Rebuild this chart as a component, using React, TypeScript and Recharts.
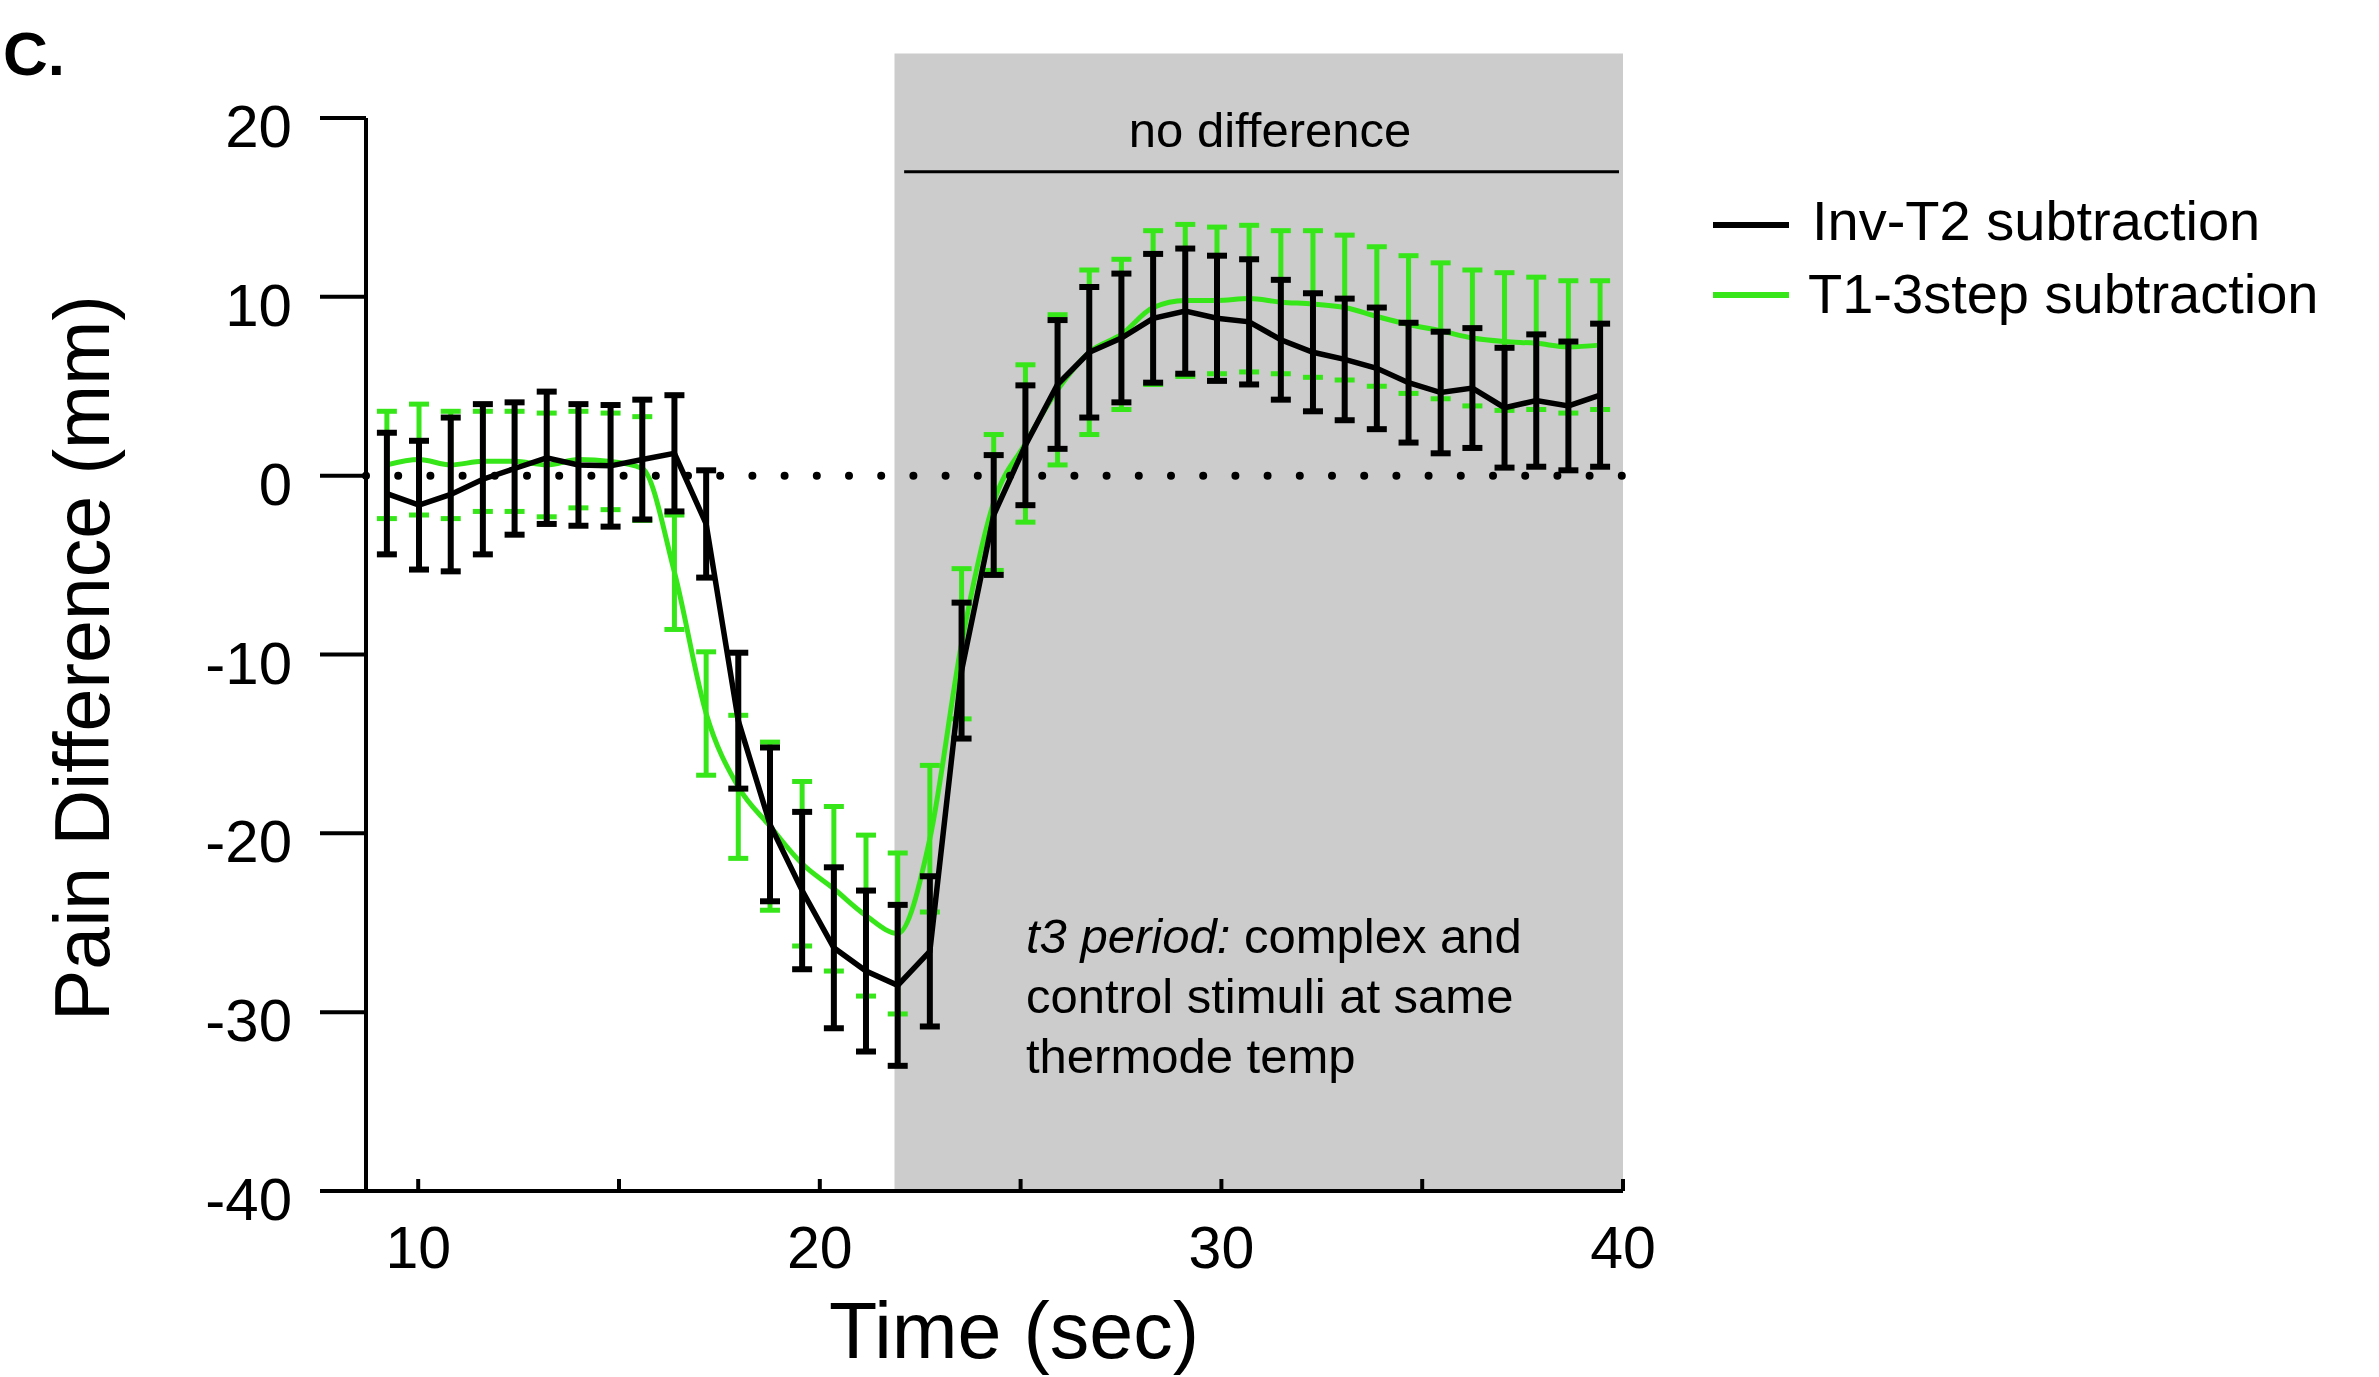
import { LineChart, Line, XAxis, YAxis, ErrorBar, ReferenceArea, ReferenceLine, Legend } from "recharts"

const FONT = "'Liberation Sans', Arial, sans-serif"

const time = [
  9.22, 10.02, 10.81, 11.61, 12.4, 13.2, 13.99, 14.79, 15.58, 16.38,
  17.17, 17.97, 18.76, 19.56, 20.35, 21.15, 21.94, 22.74, 23.53, 24.33,
  25.12, 25.92, 26.71, 27.51, 28.3, 29.1, 29.89, 30.69, 31.48, 32.28,
  33.07, 33.87, 34.66, 35.46, 36.25, 37.05, 37.84, 38.64, 39.43,
]

// Inv-T2 subtraction (black)
const invT2 = [
  -1.0, -1.65, -1.05, -0.2, 0.4, 1.0, 0.6, 0.55, 0.9, 1.25,
  -2.7, -13.7, -19.5, -23.2, -26.4, -27.7, -28.5, -26.6, -10.9, -2.2,
  1.7, 5.1, 6.9, 7.7, 8.8, 9.2, 8.8, 8.6, 7.6, 6.9,
  6.5, 6.0, 5.2, 4.65, 4.9, 3.8, 4.2, 3.9, 4.5,
]
const invT2Err = [
  3.4, 3.6, 4.3, 4.2, 3.7, 3.7, 3.4, 3.4, 3.35, 3.25,
  3.0, 3.8, 4.3, 4.4, 4.5, 4.5, 4.5, 4.2, 3.8, 3.35,
  3.35, 3.6, 3.65, 3.6, 3.6, 3.5, 3.5, 3.5, 3.35, 3.3,
  3.4, 3.4, 3.35, 3.4, 3.35, 3.35, 3.7, 3.6, 4.0,
]

// T1-3step subtraction (green)
const t1Step = [
  0.6, 0.9, 0.6, 0.8, 0.8, 0.6, 0.9, 0.8, 0.4, -5.4,
  -13.3, -17.4, -19.6, -21.7, -23.1, -24.6, -25.6, -20.3, -9.4, -1.5,
  1.8, 4.8, 6.9, 7.9, 9.4, 9.8, 9.8, 9.9, 9.7, 9.6,
  9.4, 8.9, 8.45, 8.1, 7.7, 7.5, 7.4, 7.2, 7.3,
]
const t1StepErr = [
  3.0, 3.1, 3.0, 2.8, 2.8, 2.9, 2.7, 2.7, 2.9, 3.2,
  3.45, 4.0, 4.7, 4.6, 4.6, 4.5, 4.5, 4.1, 4.2, 3.8,
  4.4, 4.2, 4.6, 4.2, 4.3, 4.25, 4.1, 4.1, 4.0, 4.1,
  4.05, 3.9, 3.85, 3.8, 3.8, 3.85, 3.7, 3.7, 3.6,
]

const xTicks = [10, 15, 20, 25, 30, 35, 40]
const xLabelled = [10, 20, 30, 40]
const yTicks = [-40, -30, -20, -10, 0, 10, 20]

const GREEN = "#36e619"

const data = time.map((t, i) => ({
  t,
  invT2: invT2[i],
  invT2Err: invT2Err[i],
  t1Step: t1Step[i],
  t1StepErr: t1StepErr[i],
}))

const XTick = (props: any) => {
  const { x, y, payload } = props
  return (
    <g>
      <line x1={x} x2={x} y1={y} y2={y - 12} stroke="#000" strokeWidth={4} />
      {xLabelled.includes(payload.value) && (
        <text x={x} y={y + 77} textAnchor="middle" fontSize={59} fill="#000" fontFamily={FONT}>
          {payload.value}
        </text>
      )}
    </g>
  )
}

const YTick = (props: any) => {
  const { x, y, payload } = props
  return (
    <text x={x} y={y + 29} textAnchor="end" fontSize={60} fill="#000" fontFamily={FONT}>
      {payload.value}
    </text>
  )
}

const LegendBox = () => (
  <svg width={680} height={160} style={{ display: "block" }}>
    <line x1={13} x2={89} y1={55} y2={55} stroke="#000" strokeWidth={6} />
    <text x={112} y={70} fontSize={56} fill="#000" fontFamily={FONT}>Inv-T2 subtraction</text>
    <line x1={13} x2={89} y1={125} y2={125} stroke={GREEN} strokeWidth={6} />
    <text x={108} y={143} fontSize={56} fill="#000" fontFamily={FONT}>T1-3step subtraction</text>
  </svg>
)

export default function App() {
  return (
    <div style={{ position: "absolute", left: 0, top: 0, width: 2379, height: 1377, background: "#fff", fontFamily: FONT }}>
      <LineChart
        width={2379}
        height={1377}
        data={data}
        margin={{ top: 118, right: 756, bottom: 86, left: 246 }}
      >
        <ReferenceArea
          x1={21.86}
          x2={40}
          y1={-40}
          y2={23.6}
          fill="#cccccc"
          fillOpacity={1}
          stroke="none"
          ifOverflow="visible"
        />
        <XAxis
          dataKey="t"
          type="number"
          domain={[8.7, 40]}
          ticks={xTicks}
          allowDataOverflow
          height={100}
          tickSize={0}
          tickMargin={0}
          tickLine={false}
          axisLine={{ stroke: "#000", strokeWidth: 4 }}
          tick={<XTick />}
          interval={0}
        />
        <YAxis
          type="number"
          domain={[-40, 20]}
          ticks={yTicks}
          width={120}
          tickSize={46}
          tickMargin={28}
          tickLine={{ stroke: "#000", strokeWidth: 4 }}
          axisLine={{ stroke: "#000", strokeWidth: 4 }}
          tick={<YTick />}
          interval={0}
        />
        <ReferenceLine
          segment={[{ x: 22.1, y: 17 }, { x: 39.9, y: 17 }]}
          stroke="#000"
          strokeWidth={3}
          ifOverflow="visible"
        />
        <Line
          dataKey="t1Step"
          type="monotone"
          stroke={GREEN}
          strokeWidth={5}
          dot={false}
          activeDot={false}
          isAnimationActive={false}
        >
          <ErrorBar dataKey="t1StepErr" direction="y" width={10} stroke={GREEN} strokeWidth={5} isAnimationActive={false} />
        </Line>
        <Line
          dataKey="invT2"
          type="linear"
          stroke="#000"
          strokeWidth={5.5}
          dot={false}
          activeDot={false}
          isAnimationActive={false}
        >
          <ErrorBar dataKey="invT2Err" direction="y" width={10} stroke="#000" strokeWidth={6} isAnimationActive={false} />
        </Line>
        <ReferenceLine
          y={0}
          stroke="#000"
          strokeWidth={8}
          strokeDasharray="0 32.2"
          strokeLinecap="round"
        />
        <Legend
          layout="vertical"
          align="center"
          verticalAlign="middle"
          content={<LegendBox />}
          wrapperStyle={{ position: "absolute", left: 1700, top: 170, width: 680, height: 160 }}
        />
      </LineChart>

      <svg
        width={2379}
        height={1377}
        style={{ position: "absolute", left: 0, top: 0, pointerEvents: "none" }}
        fontFamily={FONT}
      >
        <text x={3} y={75} fontSize={62} fontWeight="bold" fill="#000">C.</text>
        <text x={1270} y={147} textAnchor="middle" fontSize={49} fill="#000">no difference</text>
        <text x={1026} y={953} fontSize={49} fill="#000">
          <tspan fontStyle="italic">t3 period:</tspan> complex and
        </text>
        <text x={1026} y={1013} fontSize={49} fill="#000">control stimuli at same</text>
        <text x={1026} y={1073} fontSize={49} fill="#000">thermode temp</text>
        <text x={1014} y={1358} textAnchor="middle" fontSize={79} fill="#000">Time (sec)</text>
        <text
          x={109}
          y={658}
          textAnchor="middle"
          fontSize={77}
          fill="#000"
          transform="rotate(-90 109 658)"
        >
          Pain Difference (mm)
        </text>
      </svg>
    </div>
  )
}
